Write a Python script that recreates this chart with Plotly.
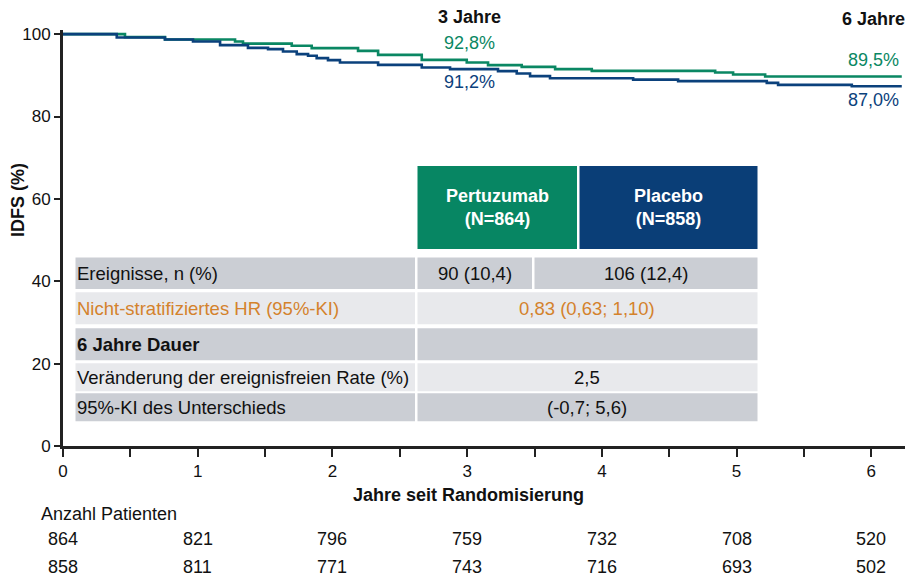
import plotly.graph_objects as go

# ---------------- data ----------------
pert_t = [0, 0.46, 0.757, 1.277, 1.336, 1.698, 1.846, 2.19, 2.339, 2.663, 2.997, 3.155,
          3.405, 3.653, 3.925, 4.841, 4.974, 5.212, 6.226]
pert_s = [100, 99.27, 98.69, 98.20, 97.7, 97.16, 96.60, 95.94, 94.97, 93.75, 93.10, 92.47,
          92.05, 91.50, 91.08, 90.67, 90.18, 89.70, 89.70]
plac_t = [0, 0.399, 0.757, 0.965, 1.166, 1.373, 1.522, 1.633, 1.735, 1.819, 1.883, 1.967,
          2.056, 2.339, 2.663, 2.873, 3.229, 3.368, 3.467, 3.615, 4.232, 4.566, 5.224,
          5.308, 5.855, 6.226]
plac_s = [100, 99.17, 98.69, 98.20, 97.33, 96.67, 96.36, 95.77, 95.14, 94.73, 94.17, 93.68,
          93.10, 92.54, 91.88, 91.49, 91.01, 90.43, 89.79, 89.30, 88.94, 88.58, 88.16,
          87.68, 87.36, 87.36]

risk_times = [0, 1, 2, 3, 4, 5, 6]
risk_pert = [864, 821, 796, 759, 732, 708, 520]
risk_plac = [858, 811, 771, 743, 716, 693, 502]

rate_labels = {"3 Jahre": ("92,8%", "91,2%"), "6 Jahre": ("89,5%", "87,0%")}

arm_headers = ["Pertuzumab<br>(N=864)", "Placebo<br>(N=858)"]
row_labels = ["Ereignisse, n (%)", "Nicht-stratifiziertes HR (95%-KI)", "6 Jahre Dauer",
              "Veränderung der ereignisfreien Rate (%)", "95%-KI des Unterschieds"]
events = ["90 (10,4)", "106 (12,4)"]
merged_values = ["0,83 (0,63; 1,10)", "", "2,5", "(-0,7; 5,6)"]

# ---------------- style ----------------
GREEN = "#0a8763"
BLUE = "#0b417c"
HDR_GREEN = "#078663"
HDR_BLUE = "#0a3e77"
DARK = "#cbced4"
LIGHT = "#e8e9ec"
ORANGE = "#d4822c"
INK = "#111111"
FONT = "Liberation Sans, Arial, sans-serif"

fig = go.Figure()
fig.add_trace(go.Scatter(x=pert_t, y=pert_s, mode="lines", line=dict(color=GREEN, width=2.6, shape="hv"),
                         showlegend=False, hoverinfo="skip"))
fig.add_trace(go.Scatter(x=plac_t, y=plac_s, mode="lines", line=dict(color=BLUE, width=2.6, shape="hv"),
                         showlegend=False, hoverinfo="skip"))

# pixel-to-coordinate helpers (layout geometry)
X0, XS = 63.0, 134.72
TOP, Y0 = 30.0, 445.8
YS = (Y0 - TOP) / 101.0
def px(x): return (x - X0) / XS
def py(y): return (Y0 - y) / YS
def ppx(x): return (x - X0) / (XS * 6.25)
def ppy(y): return (Y0 - y) / (Y0 - TOP)

shapes = []
ann = []

def rect(x0, x1, y0, y1, color):
    shapes.append(dict(type="rect", xref="x", yref="y", x0=px(x0), x1=px(x1), y0=py(y1), y1=py(y0),
                       fillcolor=color, line=dict(width=0), layer="above"))

def text(x, y, t, color=INK, size=18, xanchor="center", xref="x", yref="y", **kw):
    ann.append(dict(x=x, y=y, text=t, showarrow=False, xanchor=xanchor, yanchor="middle",
                    xref=xref, yref=yref, font=dict(color=color, size=size, family=FONT), **kw))

# header boxes
rect(417.5, 577, 166, 249, HDR_GREEN)
rect(579.5, 757.5, 166, 249, HDR_BLUE)
text(px(497), py(207), "<b>" + arm_headers[0] + "</b>", color="white", size=18)
text(px(668), py(207), "<b>" + arm_headers[1] + "</b>", color="white", size=18)

TS = 18.5
rows = [(257.3, 289), (292, 324), (328, 360), (363, 391), (393, 421)]
fills = [DARK, LIGHT, DARK, LIGHT, DARK]
for i, ((a, b), f) in enumerate(zip(rows, fills)):
    rect(75.5, 415, a, b, f)
    if i == 0:
        rect(417.5, 532, a, b, f)
        rect(534.5, 757.5, a, b, f)
    else:
        rect(417.5, 757.5, a, b, f)
    yc = py((a + b) / 2)
    col = ORANGE if i == 1 else INK
    lab = "<b>" + row_labels[i] + "</b>" if i == 2 else row_labels[i]
    text(px(75), yc, lab, color=col, xanchor="left", size=TS)
    if i == 0:
        text(px(475), yc, events[0], size=TS)
        text(px(646), yc, events[1], size=TS)
    else:
        v = merged_values[i - 1]
        if v:
            text(px(587), yc, v, color=col, size=TS)

# timepoint labels
for (lab, (g, b)), xc, ys in zip(rate_labels.items(), [px(469), px(873)], [(17, 43, 82), (19, 60, 100)]):
    text(xc, ppy(ys[0]), "<b>" + lab + "</b>", yref="paper")
    text(xc, py(ys[1]), g, color=GREEN)
    text(xc, py(ys[2]), b, color=BLUE)

# axis titles
text(px(468), ppy(495), "<b>Jahre seit Randomisierung</b>", yref="paper")
text(ppx(18), ppy(200), "<b>IDFS (%)</b>", xref="paper", yref="paper", textangle=-90)

# risk table
text(ppx(39), ppy(514), "Anzahl Patienten", xref="paper", yref="paper", xanchor="left")
for t, a, b in zip(risk_times, risk_pert, risk_plac):
    text(t, ppy(539), str(a), yref="paper")
    text(t, ppy(567), str(b), yref="paper")

fig.update_layout(
    width=908, height=578,
    margin=dict(l=63, r=3, t=30, b=132.2),
    paper_bgcolor="white", plot_bgcolor="white",
    shapes=shapes, annotations=ann,
    font=dict(family=FONT, size=17, color=INK),
    xaxis=dict(range=[0, 6.25], tickvals=[0, 1, 2, 3, 4, 5, 6], ticks="outside", ticklen=8, tickwidth=2,
               tickcolor="#222222", showline=True, linecolor="#222222", linewidth=2.8, showgrid=False,
               zeroline=False, tickfont=dict(size=17, family=FONT, color=INK),
               minor=dict(tickvals=[0.5, 1.5, 2.5, 3.5, 4.5, 5.5], ticks="outside", ticklen=8, tickwidth=2,
                          tickcolor="#222222")),
    yaxis=dict(range=[0, 101], tickvals=[0, 20, 40, 60, 80, 100], ticks="outside", ticklen=6, tickwidth=2,
               tickcolor="#222222", showline=True, linecolor="#222222", linewidth=2.8, showgrid=False,
               zeroline=False, tickfont=dict(size=17, family=FONT, color=INK)),
)

fig.write_html("out.html", config={"displayModeBar": False},
               post_script="document.body.style.margin='0';document.body.style.overflow='hidden';")
